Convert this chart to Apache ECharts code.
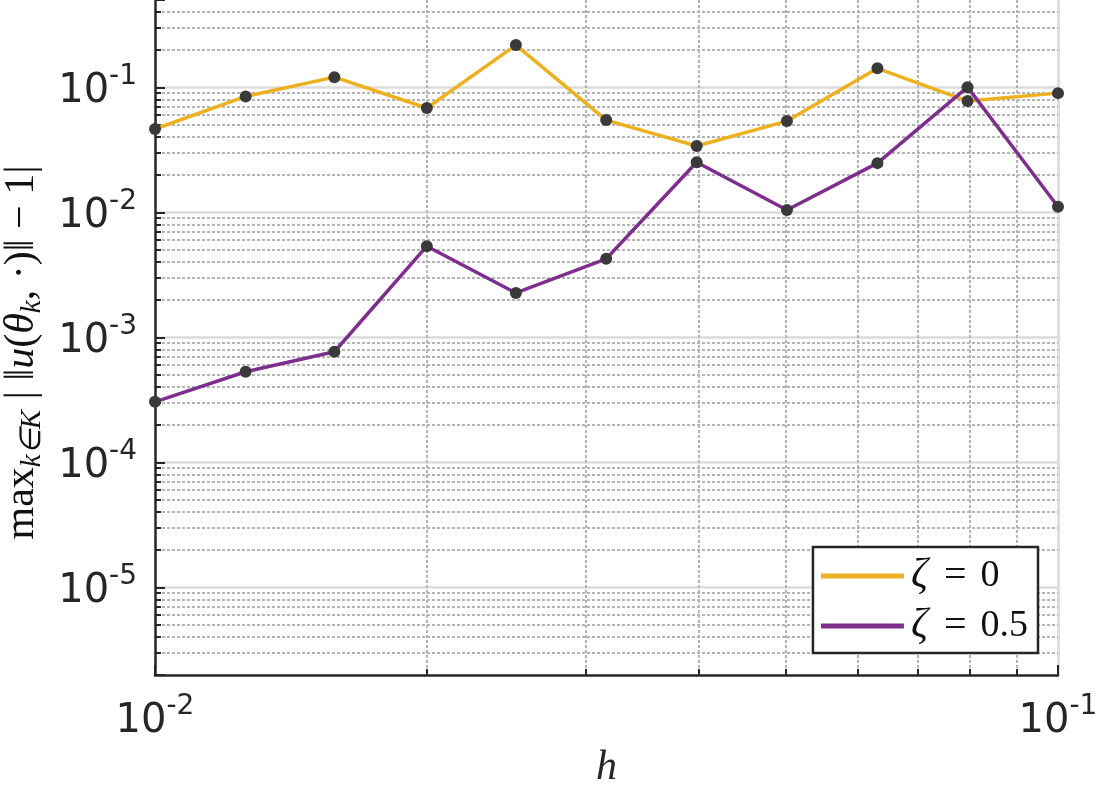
<!DOCTYPE html>
<html>
<head>
<meta charset="utf-8">
<script src="https://cdn.jsdelivr.net/npm/echarts@6/dist/echarts.min.js"></script>
<style>
  html, body { margin: 0; padding: 0; background: #fff; }
  #chart { width: 1100px; height: 800px; }
</style>
</head>
<body>
<div id="chart"></div>
<script>
// ---- data ----
const hValues = [0.01, 0.0126, 0.0158, 0.02, 0.0251, 0.0316, 0.0398, 0.0501, 0.0631, 0.0794, 0.1];
const zeta0Values = [0.0465, 0.0847, 0.1208, 0.0684, 0.218, 0.0548, 0.034, 0.0538, 0.142, 0.0778, 0.090];
const zeta05Values = [3.06e-4, 5.32e-4, 7.69e-4, 5.37e-3, 2.27e-3, 4.26e-3, 0.0252, 0.01047, 0.0248, 0.1005, 0.0111];
const seriesNames = ['ζ = 0', 'ζ = 0.5'];
const seriesColors = ['#EDB120', '#7E2F8E'];
const xRange = [0.01, 0.1];
const yRange = [2e-6, 0.5];
const xMinorTicks = [0.02, 0.03, 0.04, 0.05, 0.06, 0.07, 0.08, 0.09];
const yMinorMultipliers = [2, 3, 4, 5, 6, 7, 8, 9];
const yDecades = [1e-6, 1e-5, 1e-4, 1e-3, 1e-2, 1e-1];

const yMinorTicks = [];
yDecades.forEach(d => yMinorMultipliers.forEach(m => {
  const v = d * m;
  if (v > yRange[0] * 1.0001 && v < yRange[1] * 0.9999) yMinorTicks.push(v);
}));

const axisColor = '#262626';
const minorGridColor = '#b4b4b4';
const majorGridColor = '#dcdcdc';

function powLabel(v) {
  const e = Math.log10(v);
  const r = Math.round(e);
  if (Math.abs(e - r) > 1e-6) return '';
  return '{b|10}{s|' + r + '}';
}
const labelRich = {
  b: { fontFamily: 'DejaVu Sans', fontSize: 40, color: axisColor, lineHeight: 49, verticalAlign: 'bottom' },
  s: { fontFamily: 'DejaVu Sans', fontSize: 28, color: axisColor, lineHeight: 28, verticalAlign: 'top' }
};

const chart = echarts.init(document.getElementById('chart'));
chart.setOption({
  animation: false,
  backgroundColor: '#fff',
  grid: { left: 155, right: 42, top: 0, bottom: 125, containLabel: false, outerBoundsMode: 'none' },
  xAxis: {
    type: 'log', logBase: 10, min: xRange[0], max: xRange[1],
    name: 'h', nameLocation: 'middle', nameGap: 72,
    nameTextStyle: { fontFamily: 'Liberation Serif', fontStyle: 'italic', fontSize: 42, color: axisColor },
    axisLine: { show: true, onZero: false, lineStyle: { color: axisColor, width: 2.5 } },
    axisTick: { show: true, inside: true, length: 10, lineStyle: { color: axisColor, width: 2 } },
    axisLabel: { margin: 18, formatter: powLabel, rich: labelRich, showMinLabel: true, showMaxLabel: true },
    splitLine: { show: true, showMinLine: false, lineStyle: { color: majorGridColor, width: 2.5 } },
    minorTick: { show: false }
  },
  yAxis: {
    type: 'log', logBase: 10, min: yRange[0], max: yRange[1],
    name: '{r|max}{si|k∈K}{r| | ‖}{i|u}{r|(}{i|θ}{si|k}{r|, ·)‖ − 1|}',
    nameLocation: 'middle', nameGap: 108, nameRotate: 90,
    nameTextStyle: {
      color: axisColor,
      padding: [0, 30, 0, 0],
      rich: {
        r: { fontFamily: 'Liberation Serif', fontSize: 42, lineHeight: 50, color: '#111' },
        i: { fontFamily: 'Liberation Serif', fontStyle: 'italic', fontSize: 42, lineHeight: 50, color: '#111' },
        si: { fontFamily: 'Liberation Serif', fontStyle: 'italic', fontSize: 29, lineHeight: 29, verticalAlign: 'bottom', color: '#111' }
      }
    },
    axisLine: { show: true, onZero: false, lineStyle: { color: axisColor, width: 2.5 } },
    axisTick: { show: true, inside: true, length: 10, lineStyle: { color: axisColor, width: 2 } },
    axisLabel: { margin: 18, formatter: powLabel, rich: labelRich },
    splitLine: { show: true, showMinLine: false, showMaxLine: false, lineStyle: { color: majorGridColor, width: 2.5 } },
    minorTick: { show: false }
  },
  legend: {
    show: true,
    orient: 'vertical',
    right: 62, bottom: 147,
    backgroundColor: '#fff',
    borderColor: axisColor, borderWidth: 2.5, borderRadius: 0,
    padding: [8, 10, 6, 8],
    itemGap: 8,
    itemWidth: 83, itemHeight: 5,
    icon: 'rect',
    data: seriesNames.map((n, i) => ({ name: n, itemStyle: { color: seriesColors[i], borderWidth: 0 } })),
    formatter: n => {
      const parts = n.split(' = ');
      return '{z|ζ}{eq|=}{t|' + parts[1] + '}';
    },
    textStyle: {
      fontFamily: 'Liberation Serif', fontSize: 38, color: '#111', lineHeight: 40,
      rich: {
        z: { fontFamily: 'Liberation Serif', fontStyle: 'italic', fontSize: 42, color: '#111', lineHeight: 40, padding: [0, 0, 0, 2] },
        eq: { fontFamily: 'Liberation Serif', fontSize: 40, color: '#111', lineHeight: 40, padding: [0, 14, 0, 16] },
        t: { fontFamily: 'Liberation Serif', fontSize: 38, color: '#111', lineHeight: 40 }
      }
    }
  },
  series: [
    {
      type: 'custom', name: 'yMinor', silent: true, z: 1, clip: false,
      data: yMinorTicks.map(v => [xRange[0], v]),
      renderItem: (params, api) => {
        const cs = params.coordSys;
        const p = api.coord([xRange[0], api.value(1)]);
        const y = Math.round(p[1]);
        return { type: 'group', children: [
          { type: 'line', shape: { x1: cs.x + 2, y1: y, x2: cs.x + cs.width, y2: y },
            style: { stroke: minorGridColor, lineWidth: 2, lineDash: [3, 2] } },
          { type: 'line', shape: { x1: cs.x, y1: y, x2: cs.x + 6, y2: y },
            style: { stroke: axisColor, lineWidth: 2 } }
        ] };
      }
    },
    {
      type: 'custom', name: 'xMinor', silent: true, z: 1, clip: false,
      data: xMinorTicks.map(v => [v, yRange[0]]),
      renderItem: (params, api) => {
        const cs = params.coordSys;
        const p = api.coord([api.value(0), yRange[0]]);
        const x = Math.round(p[0]);
        return { type: 'group', children: [
          { type: 'line', shape: { x1: x, y1: cs.y, x2: x, y2: cs.y + cs.height - 2 },
            style: { stroke: minorGridColor, lineWidth: 2, lineDash: [3, 2] } },
          { type: 'line', shape: { x1: x, y1: cs.y + cs.height, x2: x, y2: cs.y + cs.height - 6 },
            style: { stroke: axisColor, lineWidth: 2 } }
        ] };
      }
    },
    {
      type: 'line', name: seriesNames[0], z: 3,
      data: hValues.map((h, i) => [h, zeta0Values[i]]),
      symbol: 'circle', symbolSize: 12, showAllSymbol: true,
      lineStyle: { color: seriesColors[0], width: 3.5 },
      itemStyle: { color: '#3a3a3a', borderWidth: 0 }
    },
    {
      type: 'line', name: seriesNames[1], z: 4,
      data: hValues.map((h, i) => [h, zeta05Values[i]]),
      symbol: 'circle', symbolSize: 12, showAllSymbol: true,
      lineStyle: { color: seriesColors[1], width: 3.5 },
      itemStyle: { color: '#3a3a3a', borderWidth: 0 }
    }
  ]
});
</script>
</body>
</html>
